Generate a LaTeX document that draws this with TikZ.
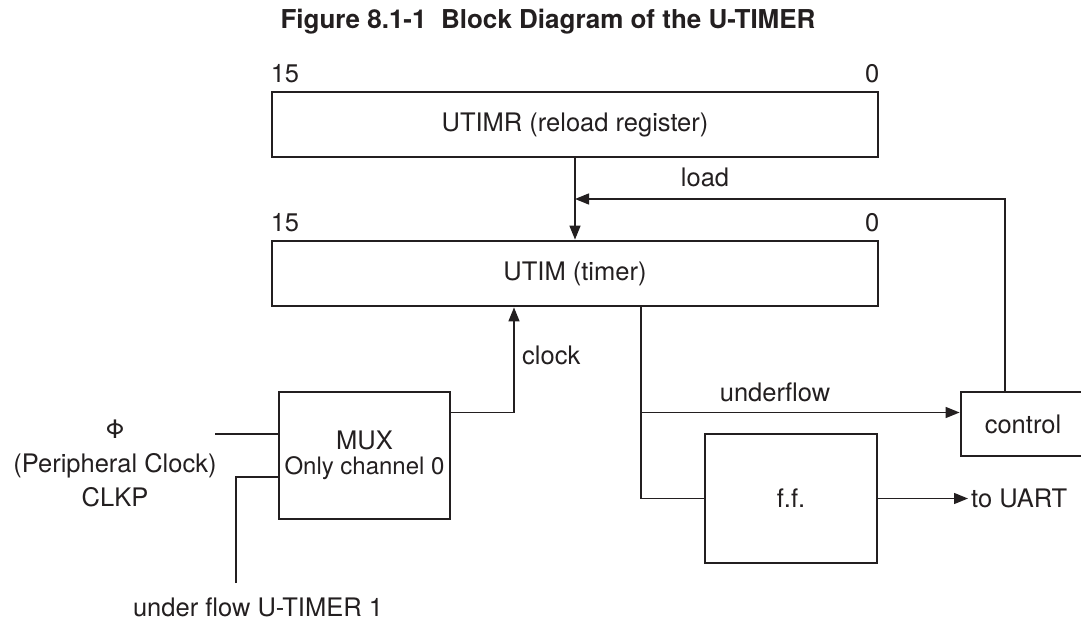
\documentclass[tikz,border=0pt]{standalone}
\usepackage{fontspec}
\setmainfont{TeX Gyre Heros}
\usetikzlibrary{arrows.meta,positioning}
\definecolor{ink}{HTML}{231F20}
\tikzset{>={Triangle[length=14pt,width=11pt]}}
\tikzset{
  regbox/.style = {draw,line width=2.8pt,minimum width=606pt,minimum height=65pt},
  blockbox/.style = {draw,line width=2.8pt},
  wire/.style = {line width=1.4pt}
}

\begin{document}
\begin{tikzpicture}[x=1pt,y=-1pt,color=ink,inner sep=0pt,font=\fontsize{25.5}{30}\selectfont]
  \clip (0,0) rectangle (1081,620);
  % 
  \node[font=\bfseries\fontsize{26}{30}\selectfont] (title) at (548,22) {Figure 8.1-1\ \ Block Diagram of the U-TIMER};
  % registers
  \node[regbox] (utimr) at (575,124.5) {UTIMR (reload register)};
  \node[regbox] (utim) at (575,273.5) {UTIM (timer)};
  \node[above right=8pt and 0pt of utimr.north west] (msbr) {15};
  \node[above left=8pt and 0pt of utimr.north east] (lsbr) {0};
  \node[above right=8pt and 0pt of utim.north west] (msbt) {15};
  \node[above left=8pt and 0pt of utim.north east] (lsbt) {0};
  % blocks
  \node[blockbox,minimum width=171pt,minimum height=127pt,align=center,font=\fontsize{24}{30}\selectfont] (mux) at (364.5,455.5) {\fontsize{25.5}{30}\selectfont MUX\\[-5pt]Only channel 0};
  \node[blockbox,minimum width=172pt,minimum height=129pt] (ff) at (791,498.5) {f.f.};
  \node[blockbox,minimum width=124pt,minimum height=64pt] (ctrl) at (1023,424) {control};
  % 
  \coordinate (ld) at (1005,199);
  \coordinate (clk) at (514,412.5);
  \coordinate (tap) at (641,412.5);
  \coordinate (phiin) at (215,434);
  \coordinate (ufin) at (236,477);
  \coordinate (ufend) at (236,583);
  % 
  \draw[wire,->] (utimr.south) -- (utim.north);
  \draw[wire,->] (ctrl.north -| ld) -- (ld) -- (ld -| utimr.south);
  \draw[wire,->] (mux.east |- clk) -- (clk) -- (clk |- utim.south);
  \draw[wire] (utim.south -| tap) -- (ff.west -| tap) -- (ff.west);
  \draw[wire,->] (tap) -- (ctrl.west |- tap);
  \node[anchor=west] (uart) at (971,498.5) {to UART};
  \draw[wire,->] (ff.east) -- ([xshift=-3pt]uart.west);
  \draw[wire] (phiin) -- (mux.west |- phiin);
  \draw[wire] (ufend) -- (ufin) -- (mux.west |- ufin);
  % labels
  \node (loadlbl) at (705,177) {load};
  \node[anchor=west] (clklbl) at (522,355) {clock};
  \node (uflbl) at (775,392) {underflow};
  \node[align=center,font=\fontsize{25.5}{34}\selectfont] (clkp) at (115,463) {Φ\\(Peripheral Clock)\\CLKP};
  \node (uf1) at (258,607) {under flow U-TIMER 1};
\end{tikzpicture}
\end{document}
